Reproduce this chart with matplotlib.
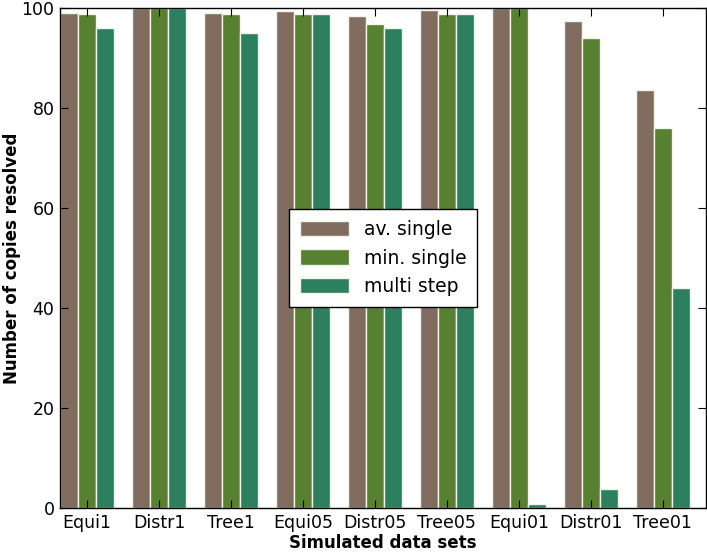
import matplotlib
matplotlib.use("Agg")
import matplotlib.pyplot as plt
import numpy as np

categories = ["Equi1", "Distr1", "Tree1", "Equi05", "Distr05", "Tree05", "Equi01", "Distr01", "Tree01"]
av_single = [99.1, 100, 99.1, 99.5, 98.5, 99.6, 100, 97.5, 83.7]
min_single = [98.8, 100, 98.8, 98.8, 96.8, 98.8, 100, 94, 76]
multi_step = [96, 100, 95, 98.8, 96, 98.8, 0.8, 3.8, 44]
series_names = ["av. single", "min. single", "multi step"]
colors = ["#806d60", "#578030", "#2e7f5f"]

fig = plt.figure(figsize=(7.07, 5.52), dpi=100)
ax = fig.add_axes([60/707, 44/552, 646/707, 500/552])

x = np.arange(len(categories))
w = 0.25
for k, (vals, name, c) in enumerate(zip([av_single, min_single, multi_step], series_names, colors)):
    ax.bar(x + (k - 1) * w, vals, width=w, color=c, edgecolor="#f0f5e8", linewidth=1.0, label=name)

ax.set_xlim(-0.375, 8.6)
ax.set_ylim(0, 100)
ax.set_xticks(x)
ax.set_xticklabels(categories, fontsize=12.5)
ax.set_yticks(np.arange(0, 101, 20))
ax.tick_params(axis="y", labelsize=12.5)
ax.tick_params(direction="in", top=True, right=True, length=6, width=0.8, pad=4)
ax.set_xlabel("Simulated data sets", fontsize=12, fontweight="bold")
ax.set_ylabel("Number of copies resolved", fontsize=12, fontweight="bold")
ax.xaxis.set_label_coords(0.5, -0.051)
ax.yaxis.set_label_coords(-0.061, 0.5)
for s in ax.spines.values():
    s.set_linewidth(1.0)

leg = ax.legend(loc="center", fontsize=13.5, fancybox=False, framealpha=1, edgecolor="black",
                handlelength=2.6, handleheight=0.9, borderpad=0.6, labelspacing=0.5)
leg.get_frame().set_linewidth(1.0)

fig.savefig("out.png", dpi=100)
